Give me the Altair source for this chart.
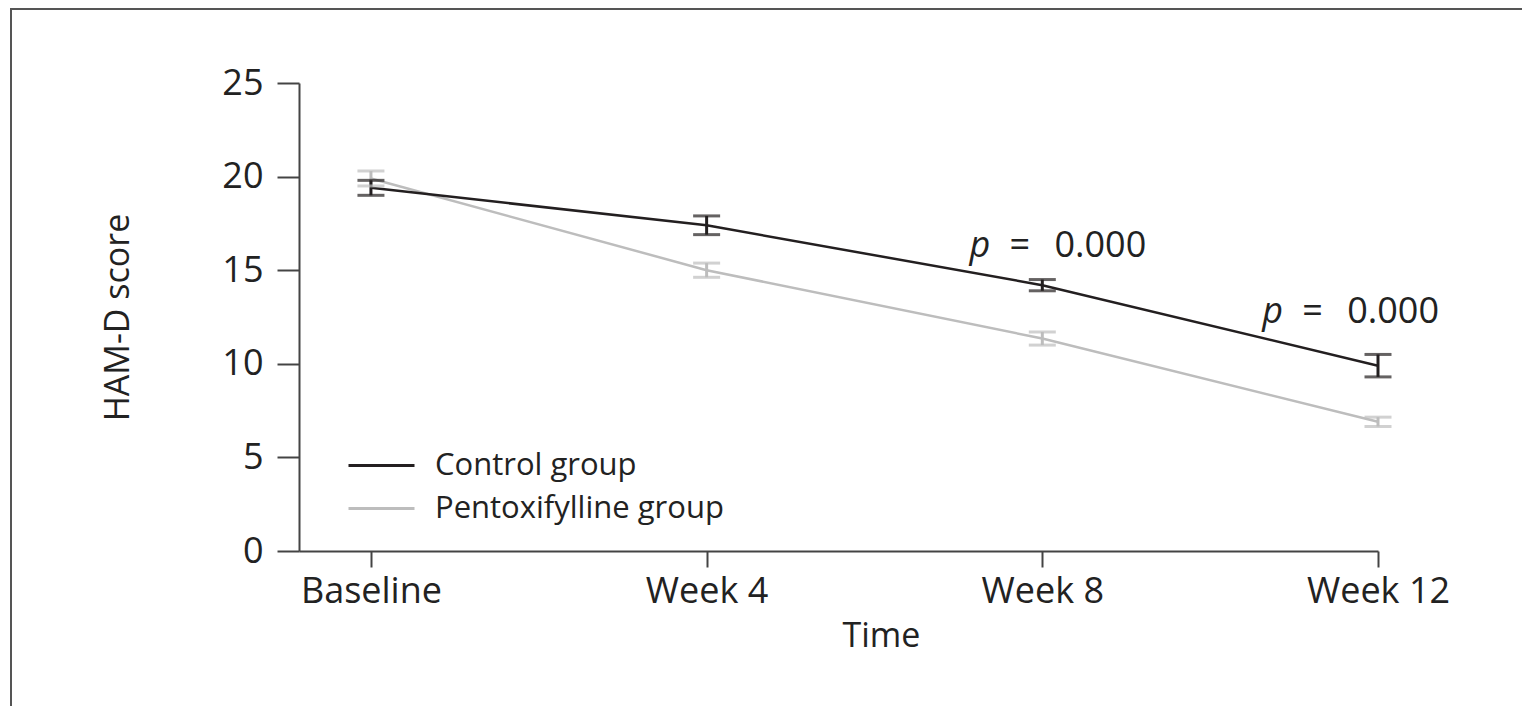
import altair as alt
import pandas as pd

# ---- data ----
times = ["Baseline", "Week 4", "Week 8", "Week 12"]
groups = ["Control group", "Pentoxifylline group"]
control_mean = [19.4, 17.4, 14.2, 9.9]
control_err = [0.4, 0.5, 0.3, 0.6]
pentox_mean = [19.9, 15.0, 11.35, 6.9]
pentox_err = [0.4, 0.38, 0.35, 0.25]
annot_x = [1.783, 2.655]
annot_y = [16.3, 12.75]
annot_p = ["p", "p"]
annot_eq = ["=", "="]
annot_val = ["0.000", "0.000"]

colors = ["#231f20", "#bdbdbd"]
FONT = "Open Sans"
FS = 36

rows = []
for g, means, errs in [(groups[1], pentox_mean, pentox_err), (groups[0], control_mean, control_err)]:
    for i, (m, e) in enumerate(zip(means, errs)):
        rows.append({"t": i, "time": times[i], "group": g, "mean": m,
                     "lo": m - e, "hi": m + e, "order": groups.index(g)})
df = pd.DataFrame(rows)
ann = pd.DataFrame({"x": annot_x, "y": annot_y, "p": annot_p, "eq": annot_eq, "val": annot_val})

label_expr = "[" + ",".join("'%s'" % t for t in times) + "][datum.value]"

xscale = alt.Scale(domain=[-0.2143, 3], nice=False, zero=False)
yscale = alt.Scale(domain=[0, 25], nice=False)
cscale = alt.Scale(domain=groups, range=colors)

xenc = alt.X("t:Q", scale=xscale,
             axis=alt.Axis(title="Time", values=[0, 1, 2, 3], labelExpr=label_expr,
                           grid=False, tickSize=16, labelPadding=7, titlePadding=10,
                           titleX=582, labelFlush=False))
yenc = alt.Y("mean:Q", scale=yscale,
             axis=alt.Axis(title="HAM-D score", values=[0, 5, 10, 15, 20, 25], grid=False,
                           tickSize=22, labelPadding=14, titlePadding=86))

base = alt.Chart(df)

lines = base.mark_line(strokeWidth=2.5).encode(
    x=xenc, y=yenc,
    color=alt.Color("group:N", scale=cscale, sort=groups,
                    legend=alt.Legend(title=None, orient="none", legendX=48, legendY=361,
                                      symbolType="stroke", symbolSize=4356,
                                      symbolStrokeWidth=3, labelFontSize=31,
                                      labelFont=FONT, labelColor="#222", labelOffset=19,
                                      labelLimit=0, rowPadding=0, clipHeight=43)),
    order=alt.Order("order:Q"),
    detail="group:N",
)

rules = base.mark_rule(strokeWidth=3).encode(
    x="t:Q", y="lo:Q", y2="hi:Q",
    color=alt.Color("group:N", scale=cscale, legend=None),
)
caps_lo = base.mark_tick(orient="horizontal", size=27, thickness=3).encode(
    x="t:Q", y="lo:Q", color=alt.Color("group:N", scale=cscale, legend=None))
caps_hi = base.mark_tick(orient="horizontal", size=27, thickness=3).encode(
    x="t:Q", y="hi:Q", color=alt.Color("group:N", scale=cscale, legend=None))

annb = alt.Chart(ann)
p_italic = annb.mark_text(font=FONT, fontSize=FS, fontStyle="italic", align="left",
                          baseline="middle", dx=0, color="#222").encode(
    x="x:Q", y="y:Q", text="p:N")
p_eq = annb.mark_text(font=FONT, fontSize=FS, align="left",
                      baseline="middle", dx=40, color="#222").encode(
    x="x:Q", y="y:Q", text="eq:N")
p_val = annb.mark_text(font=FONT, fontSize=FS, align="left",
                       baseline="middle", dx=85, color="#222").encode(
    x="x:Q", y="y:Q", text="val:N")

border_v = alt.Chart(df).mark_rule(color="#555", strokeWidth=2).encode(
    x=alt.value(-288), y=alt.value(-74), y2=alt.value(700))
border_h = alt.Chart(df).mark_rule(color="#555", strokeWidth=2).encode(
    x=alt.value(-289), x2=alt.value(1300), y=alt.value(-74))

chart = alt.layer(
    border_v, border_h, lines, rules, caps_lo, caps_hi, p_italic, p_eq, p_val
).properties(
    width=1079, height=468,
    autosize=alt.AutoSizeParams(type="none"),
    padding={"left": 291, "top": 75, "right": 144, "bottom": 155},
).configure_view(stroke=None).configure_axis(
    domainColor="#444", domainWidth=2, tickColor="#444", tickWidth=2,
    labelFont=FONT, labelFontSize=FS, labelColor="#222",
    titleFont=FONT, titleFontSize=34, titleColor="#222", titleFontWeight="normal",
)

chart.save("out.html", embed_options={"renderer": "svg", "actions": False})
